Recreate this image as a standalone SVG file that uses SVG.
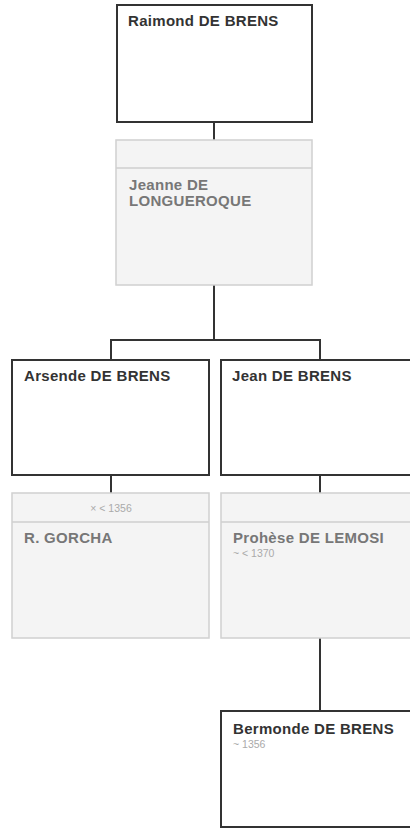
<svg xmlns="http://www.w3.org/2000/svg" width="410" height="829" viewBox="0 0 410 829">
<style>
.p{fill:#fff;stroke:#333;stroke-width:2}
.s{fill:#f4f4f4;stroke:#d0d0d0;stroke-width:1.5}
.d{stroke:#cfcfcf;stroke-width:1.5}
.n{font-family:"Liberation Sans",Arial,sans-serif;font-weight:bold;font-size:15px;letter-spacing:0.3px;fill:#333}
.sn{font-family:"Liberation Sans",Arial,sans-serif;font-weight:bold;font-size:15px;letter-spacing:0.3px;fill:#777}
.t{font-family:"Liberation Sans",Arial,sans-serif;font-size:10.5px;fill:#aaa}
.c{fill:none;stroke:#333;stroke-width:2}
</style>
<rect width="410" height="829" fill="#fff"/>
<g id="connectors">
<path class="c" d="M214 122V140M214 285V340M111 340H320M111 339V360M320 339V360M111 475V493M320 475V493M320 638V711"/>
</g>
<g id="raimond">
<rect class="p" x="117" y="5" width="195" height="117"/>
<text class="n" x="128" y="26">Raimond DE BRENS</text>
</g>
<g id="jeanne">
<rect class="s" x="116" y="140" width="196" height="145"/>
<line class="d" x1="116" y1="168" x2="312" y2="168"/>
<text class="sn" x="129" y="190">Jeanne DE</text>
<text class="sn" x="129" y="206">LONGUEROQUE</text>
</g>
<g id="arsende">
<rect class="p" x="12" y="360" width="197" height="115"/>
<text class="n" x="24" y="381">Arsende DE BRENS</text>
</g>
<g id="jean">
<rect class="p" x="221" y="360" width="192" height="115"/>
<text class="n" x="232" y="381">Jean DE BRENS</text>
</g>
<g id="gorcha">
<rect class="s" x="12" y="493" width="197" height="145"/>
<line class="d" x1="12" y1="522" x2="209" y2="522"/>
<text class="t" x="111" y="512" text-anchor="middle">× &lt; 1356</text>
<text class="sn" x="24" y="543">R. GORCHA</text>
</g>
<g id="prohese">
<rect class="s" x="221" y="493" width="192" height="145"/>
<line class="d" x1="221" y1="522" x2="413" y2="522"/>
<text class="sn" x="233" y="543">Prohèse DE LEMOSI</text>
<text class="t" x="233" y="557">~ &lt; 1370</text>
</g>
<g id="bermonde">
<rect class="p" x="221" y="711" width="192" height="116"/>
<text class="n" x="233" y="734">Bermonde DE BRENS</text>
<text class="t" x="233" y="748">~ 1356</text>
</g>
</svg>
